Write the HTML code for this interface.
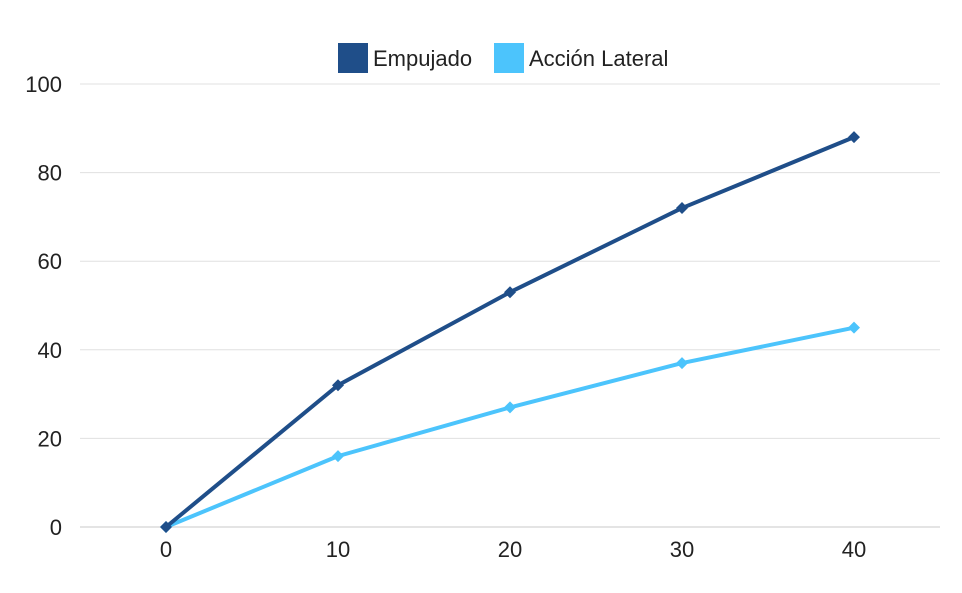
<!DOCTYPE html>
<html><head><meta charset="utf-8"><style>
body{margin:0;background:#fff;}
svg{display:block;font-family:"Liberation Sans",sans-serif;}
</style></head><body>
<svg id="chart" width="962" height="593">
<g id="grid"></g>
<g id="yticks"></g>
<g id="xticks"></g>
<g id="series"></g>
<g>
<g>
<rect x="338" y="43" width="30" height="30" fill="#1f4e89"/>
<text x="373" y="66" font-size="22" fill="#222">Empujado</text></g>
<g>
<rect x="494" y="43" width="30" height="30" fill="#4cc4fc"/>
<text x="529" y="66" font-size="22" fill="#222">Acción Lateral</text></g>
</g>
</svg>
<script>
const categories=[0,10,20,30,40];
const empujado=[0,32,53,72,88];
const lateral=[0,16,27,37,45];
const yTickValues=[0,20,40,60,80,100];
const NS="http://www.w3.org/2000/svg";
function xs(v){return 166+(v-0)*17.2;}
function ys(v){return 527-v*4.43;}
function mk(t,a,p){const e=document.createElementNS(NS,t);for(const k in a)e.setAttribute(k,a[k]);p.appendChild(e);return e;}
const grid=document.getElementById('grid'),yt=document.getElementById('yticks'),xt=document.getElementById('xticks'),ser=document.getElementById('series');
yTickValues.forEach(v=>{
 const l=mk('line',{x1:80,x2:940,y1:ys(v),y2:ys(v),stroke:v===0?'#c8c8c8':'#e0e0e0','stroke-width':1},grid);
 
 
 const t=mk('text',{x:62,y:ys(v)+8,'font-size':22,'text-anchor':'end',fill:'#222'},yt);
 t.textContent=v;
 
 
});
categories.forEach(c=>{
 const t=mk('text',{x:xs(c),y:557,'font-size':22,'text-anchor':'middle',fill:'#222'},xt);
 t.textContent=c;
 
 
});
function draw(vals,color,name){
 const pts=vals.map((v,i)=>xs(categories[i])+','+ys(v)).join(' ');
 const pl=mk('polyline',{points:pts,fill:'none',stroke:color,'stroke-width':4,'stroke-linejoin':'round'},ser);
 
 
 vals.forEach((v,i)=>{
  const x=xs(categories[i]),y=ys(v);
  const m=mk('polygon',{points:`${x},${y-6} ${x+6},${y} ${x},${y+6} ${x-6},${y}`,fill:color},ser);
  
  
 });
}
draw(lateral,'#4cc4fc','accion-lateral');
draw(empujado,'#1f4e89','empujado');
</script>
</body></html>
